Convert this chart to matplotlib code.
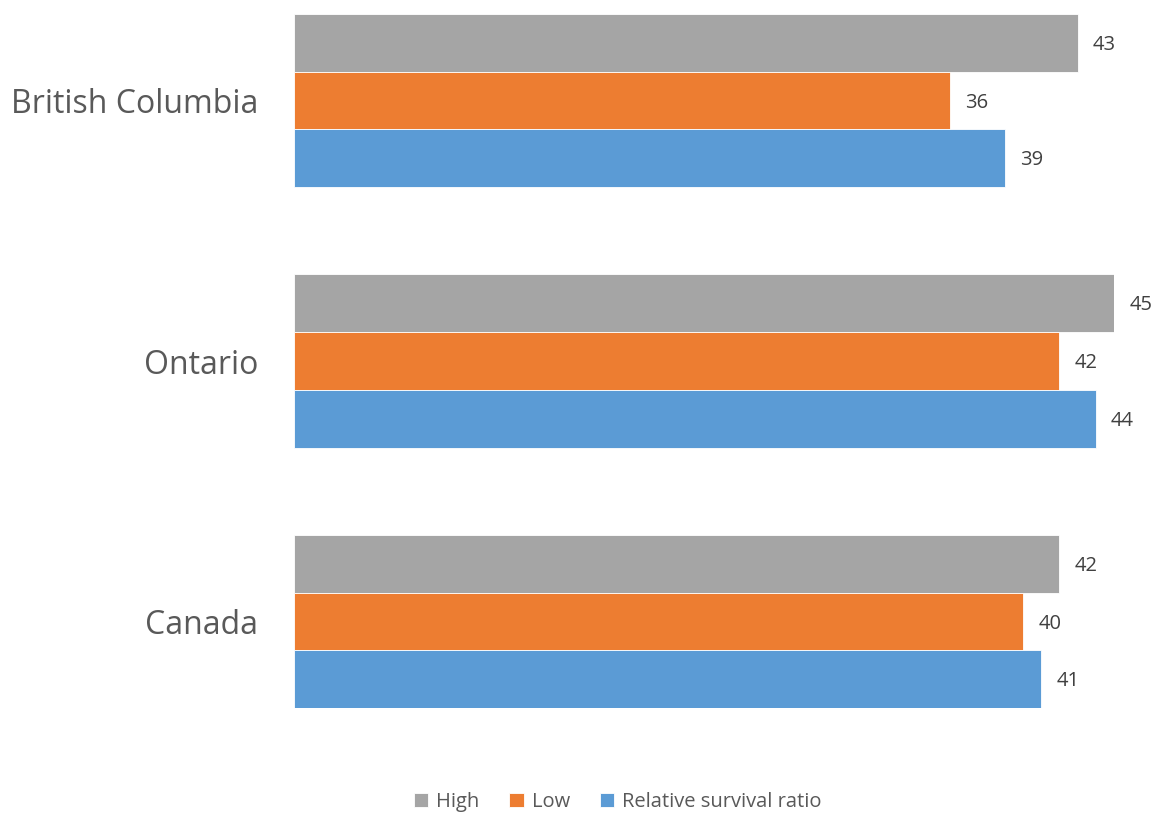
import matplotlib.pyplot as plt
import numpy as np

plt.rcParams['font.family'] = ['Open Sans', 'DejaVu Sans']

regions = ["British Columbia", "Ontario", "Canada"]
series_names = ["High", "Low", "Relative survival ratio"]
high = [43, 45, 42]
low = [36, 42, 40]
rsr = [39, 44, 41]
colors = ["#A5A5A5", "#ED7D31", "#5B9BD5"]

fig = plt.figure(figsize=(11.59, 8.14), dpi=100)
ax = fig.add_axes([294 / 1159, 0.1302, (1114 - 294) / 1159, 0.8526])

y = np.arange(len(regions))
h = 0.2214
for i, (vals, name, c) in enumerate(zip([high, low, rsr], series_names, colors)):
    pos = y + (i - 1) * h
    bars = ax.barh(pos, vals, height=h, color=c, label=name,
                   edgecolor="white", linewidth=0.6)
    for b, v in zip(bars, vals):
        ax.annotate(f"{v}", (b.get_width(), b.get_y() + b.get_height() / 2),
                    xytext=(11, -1.5), textcoords="offset points",
                    va="center", ha="left", fontsize=14.5, color="#404040",
                    annotation_clip=False)

ax.set_xlim(0, 45)
ax.set_ylim(2 + 1.5 * h, -1.5 * h)
ax.set_yticks(y)
ax.set_yticklabels(regions, fontsize=23, color="#595959")
ax.tick_params(axis="y", length=0, pad=26)
ax.set_xticks([])
for s in ax.spines.values():
    s.set_visible(False)

fig.legend(loc="lower center", bbox_to_anchor=(0.533, -0.02), ncol=3,
           frameon=False, fontsize=14.5, labelcolor="#595959",
           handlelength=0.7, handleheight=0.7, columnspacing=1.5,
           handletextpad=0.4)

fig.savefig("out.png", dpi=100)
